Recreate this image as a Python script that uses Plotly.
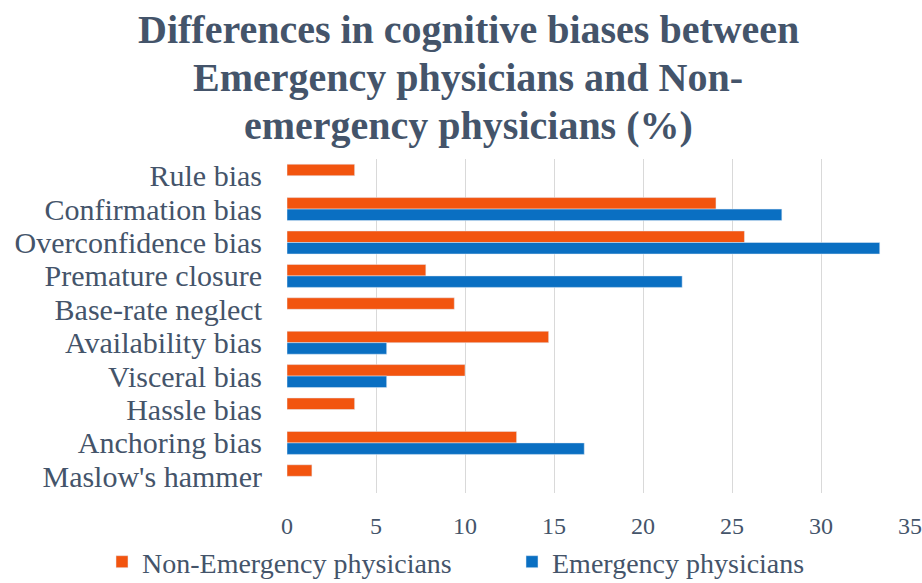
import plotly.graph_objects as go

categories = ["Rule bias", "Confirmation bias", "Overconfidence bias", "Premature closure",
              "Base-rate neglect", "Availability bias", "Visceral bias", "Hassle bias",
              "Anchoring bias", "Maslow's hammer"]
non_emergency = [3.8, 24.1, 25.7, 7.8, 9.4, 14.7, 10.0, 3.8, 12.9, 1.4]
emergency = [None, 27.8, 33.3, 22.2, None, 5.6, 5.6, None, 16.7, None]
x_ticks = [0, 5, 10, 15, 20, 25, 30, 35]
title_lines = ["Differences in cognitive biases between",
               "Emergency physicians and Non-",
               "emergency physicians (%)"]

ORANGE = "#F2540F"
BLUE = "#0A6FC2"
TEXT = "#44546A"
FONT = "Liberation Serif"

W, H = 922, 583
T, B = 159, 90
plot_h = H - T - B

fig = go.Figure()
fig.add_trace(go.Bar(y=categories, x=non_emergency, orientation="h",
                     name="Non-Emergency physicians", marker_color=ORANGE,
                     legend="legend"))
fig.add_trace(go.Bar(y=categories, x=emergency, orientation="h",
                     name="Emergency physicians", marker_color=BLUE,
                     legend="legend2"))

title_px = [30, 78, 125]
for line, py in zip(title_lines, title_px):
    fig.add_annotation(text="<b>%s</b>" % line, xref="paper", yref="paper",
                       x=(468 - 287) / (W - 287 - 12), y=(H - B - py) / plot_h,
                       xanchor="center", yanchor="middle",
                       showarrow=False, font=dict(family=FONT, size=40, color=TEXT))

legend_common = dict(orientation="h", xref="container", yref="container",
                     y=1 - 562 / H, xanchor="left", yanchor="middle",
                     font=dict(family=FONT, size=28, color=TEXT),
                     bgcolor="rgba(0,0,0,0)")

fig.update_layout(
    width=W, height=H,
    margin=dict(l=287, r=12, t=T, b=B, autoexpand=False),
    paper_bgcolor="white", plot_bgcolor="white",
    barmode="group", bargap=0.31, bargroupgap=0,
    font=dict(family=FONT, color=TEXT),
    showlegend=True,
    legend=dict(x=102 / W, **legend_common),
    legend2=dict(x=512 / W, **legend_common),
    xaxis=dict(range=[0, 35], tickvals=x_ticks, showgrid=True, gridcolor="#D9D9D9",
               gridwidth=1, zeroline=False, showline=False, ticks="", automargin=False,
               ticklabelstandoff=16,
               tickfont=dict(family=FONT, size=24, color=TEXT)),
    yaxis=dict(autorange="reversed", showgrid=False, zeroline=False, showline=False,
               ticks="", ticklabelstandoff=24, automargin=False,
               tickmode="array", tickvals=categories, ticktext=categories,
               tickfont=dict(family=FONT, size=30, color=TEXT)),
)

fig.write_html("out.html", config={"displayModeBar": False},
               post_script="document.body.style.margin='0';document.body.style.overflow='hidden';")
